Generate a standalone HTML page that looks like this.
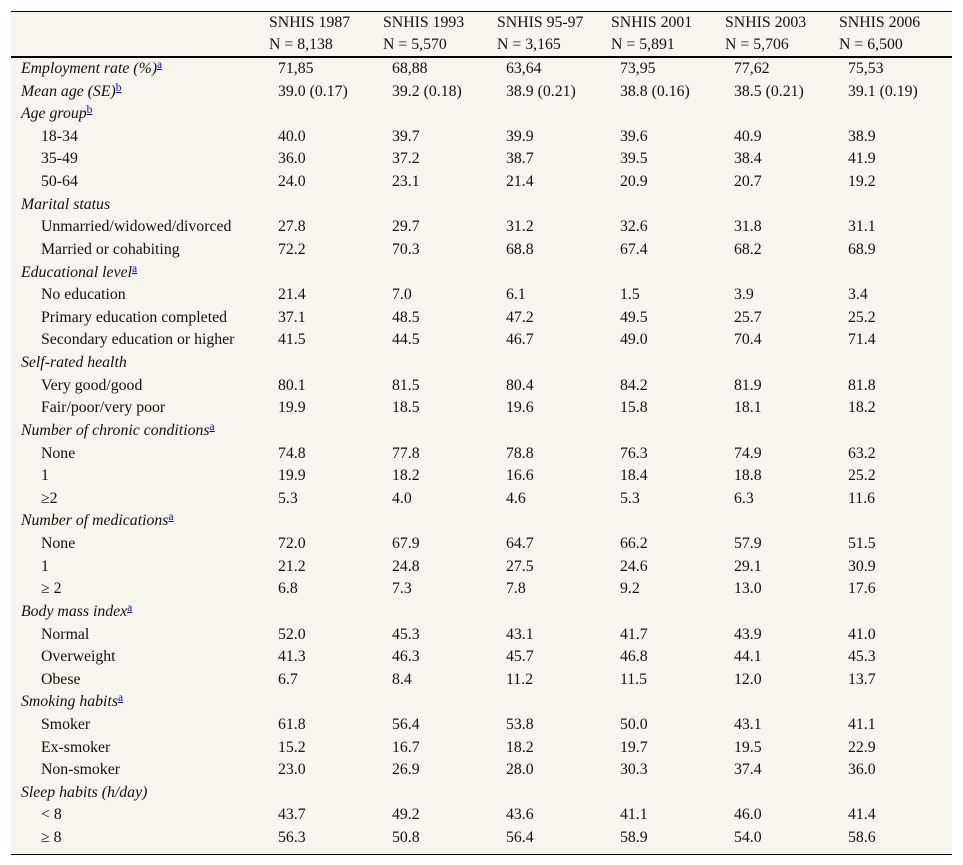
<!DOCTYPE html>
<html><head><meta charset="utf-8"><style>
body{margin:0;width:963px;height:865px;background:#fff;position:relative;font-family:"Liberation Serif",serif;font-size:15.8px;color:#111;overflow:hidden}
#tbl{position:absolute;left:11px;top:11px;width:941px;height:842px;background:#f8f5ef;border-top:1px solid #000;border-bottom:1px solid #000}
#hr{position:absolute;left:11px;top:56px;width:941px;height:2px;background:#000}
.t{position:absolute;white-space:nowrap;line-height:18px;height:18px}
.i{font-style:italic}
sup{line-height:0;font-size:11.5px;vertical-align:5px;font-style:normal}
sup a{color:#00f;text-decoration:underline}
</style></head><body>
<div id="tbl"></div>
<div id="hr"></div>
<script>
const headers=[["SNHIS 1987","N = 8,138"],["SNHIS 1993","N = 5,570"],["SNHIS 95-97","N = 3,165"],["SNHIS 2001","N = 5,891"],["SNHIS 2003","N = 5,706"],["SNHIS 2006","N = 6,500"]];
const rows=[
["h","Employment rate (%)","a",["71,85","68,88","63,64","73,95","77,62","75,53"]],
["h","Mean age (SE)","b",["39.0 (0.17)","39.2 (0.18)","38.9 (0.21)","38.8 (0.16)","38.5 (0.21)","39.1 (0.19)"]],
["h","Age group","b",[]],
["s","18-34","",["40.0","39.7","39.9","39.6","40.9","38.9"]],
["s","35-49","",["36.0","37.2","38.7","39.5","38.4","41.9"]],
["s","50-64","",["24.0","23.1","21.4","20.9","20.7","19.2"]],
["h","Marital status","",[]],
["s","Unmarried/widowed/divorced","",["27.8","29.7","31.2","32.6","31.8","31.1"]],
["s","Married or cohabiting","",["72.2","70.3","68.8","67.4","68.2","68.9"]],
["h","Educational level","a",[]],
["s","No education","",["21.4","7.0","6.1","1.5","3.9","3.4"]],
["s","Primary education completed","",["37.1","48.5","47.2","49.5","25.7","25.2"]],
["s","Secondary education or higher","",["41.5","44.5","46.7","49.0","70.4","71.4"]],
["h","Self-rated health","",[]],
["s","Very good/good","",["80.1","81.5","80.4","84.2","81.9","81.8"]],
["s","Fair/poor/very poor","",["19.9","18.5","19.6","15.8","18.1","18.2"]],
["h","Number of chronic conditions","a",[]],
["s","None","",["74.8","77.8","78.8","76.3","74.9","63.2"]],
["s","1","",["19.9","18.2","16.6","18.4","18.8","25.2"]],
["s","≥2","",["5.3","4.0","4.6","5.3","6.3","11.6"]],
["h","Number of medications","a",[]],
["s","None","",["72.0","67.9","64.7","66.2","57.9","51.5"]],
["s","1","",["21.2","24.8","27.5","24.6","29.1","30.9"]],
["s","≥ 2","",["6.8","7.3","7.8","9.2","13.0","17.6"]],
["h","Body mass index","a",[]],
["s","Normal","",["52.0","45.3","43.1","41.7","43.9","41.0"]],
["s","Overweight","",["41.3","46.3","45.7","46.8","44.1","45.3"]],
["s","Obese","",["6.7","8.4","11.2","11.5","12.0","13.7"]],
["h","Smoking habits","a",[]],
["s","Smoker","",["61.8","56.4","53.8","50.0","43.1","41.1"]],
["s","Ex-smoker","",["15.2","16.7","18.2","19.7","19.5","22.9"]],
["s","Non-smoker","",["23.0","26.9","28.0","30.3","37.4","36.0"]],
["h","Sleep habits (h/day)","",[]],
["s","< 8","",["43.7","49.2","43.6","41.1","46.0","41.4"]],
["s","≥ 8","",["56.3","50.8","56.4","58.9","54.0","58.6"]]
];
function put(x,y,html,cls,name){
 const d=document.createElement('div');d.className='t '+(cls||'');
 d.style.left=x+'px';d.style.top=(y-9)+'px';d.innerHTML=html;
 
 
 document.body.appendChild(d);
}
headers.forEach((h,c)=>{put(269+114*c,23,h[0],'','header-title');put(269+114*c,45,h[1],'','header-n');});
rows.forEach((r,i)=>{
 const y=Math.round(69+22.62*i);
 let lab=r[1];
 if(r[2])lab+='<sup><a>'+r[2]+'</a></sup>';
 if(r[0]=='h')put(21,y,lab,'i','row-group-label');else put(41,y,lab,'','row-label');
 r[3].forEach((v,c)=>put(278+114*c,y,v,'','cell-value'));
});
</script>
</body></html>
